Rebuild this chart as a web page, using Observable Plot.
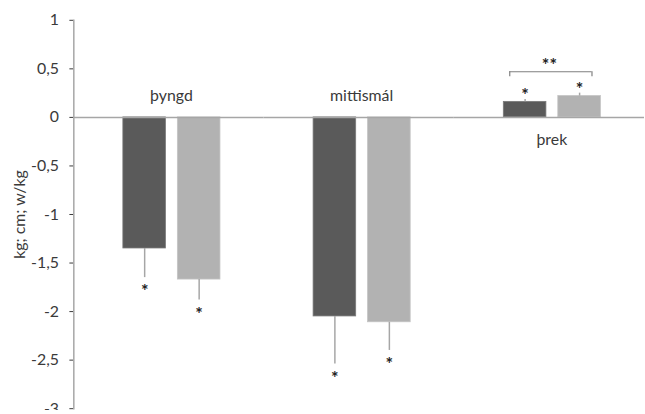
<!DOCTYPE html>
<html>
<head>
<meta charset="utf-8">
<script src="https://cdn.jsdelivr.net/npm/d3@7"></script>
<script src="https://cdn.jsdelivr.net/npm/@observablehq/plot@0.6"></script>
<style>
  html, body { margin: 0; padding: 0; background: #fff; overflow: hidden; }
  #chart { width: 645px; height: 414px; overflow: hidden; }
</style>
</head>
<body>
<div id="chart"></div>
<script>
// ---- data ----
const categories = ["þyngd", "mittismál", "þrek"];
const series = ["hópur 1", "hópur 2"];
const values1 = [-1.35, -2.05, 0.16];
const values2 = [-1.67, -2.11, 0.22];
const errors1 = [0.30, 0.49, 0.025];
const errors2 = [0.21, 0.29, 0.03];
const signif1 = ["*", "*", "*"];
const signif2 = ["*", "*", "*"];
const yTicks = [-3, -2.5, -2, -1.5, -1, -0.5, 0, 0.5, 1];
const yLabel = "kg; cm; w/kg";
// bracket comparing the two series in "þrek"
const bracketCategory = "þrek";
const bracketText = "**";
const bracketTop = 0.47;
const bracketFoot = 0.42;
const bracketTextY = 0.54;

// ---- build table ----
const rows = [];
categories.forEach((c, i) => {
  rows.push({cat: c, s: series[0], v: values1[i], e: errors1[i], sig: signif1[i]});
  rows.push({cat: c, s: series[1], v: values2[i], e: errors2[i], sig: signif2[i]});
});
rows.forEach(r => { r.end = r.v < 0 ? r.v - r.e : r.v + r.e; });
const catLabels = categories.map((c, i) => ({cat: c, neg: Math.min(values1[i], values2[i]) < 0}));

const colors = ["#5a5a5a", "#b2b2b2"];
const gray = "#a6a6a6";
const textColor = "#3a3a3a";
const font = "Lato, 'Open Sans', sans-serif";
const bracketColor = "#7f7f7f";

const chart = Plot.plot({
  width: 651,
  height: 414,
  marginLeft: 73,
  marginRight: 0,
  marginTop: 20,
  marginBottom: 2,
  style: {fontFamily: font, fontSize: "16px", color: textColor, background: "#fff"},
  fx: {domain: categories, axis: null, padding: 0},
  x: {domain: series, axis: null, paddingInner: 0.222, paddingOuter: 0.855, align: 0.53},
  y: {
    domain: [-3, 1],
    ticks: yTicks,
    tickFormat: d => String(d).replace(".", ","),
    tickSize: 4,
    tickPadding: 11,
    label: yLabel,
    labelAnchor: "center",
    labelArrow: "none",
    labelOffset: 61
  },
  color: {domain: series, range: colors},
  marks: [
    Plot.frame({anchor: "left", stroke: gray, strokeWidth: 1.5, facet: "super"}),
    Plot.barY(rows, {fx: "cat", x: "s", y: "v", fill: "s", stroke: d => d.s === series[0] ? "#7a7a7a" : "#c4c4c4", strokeWidth: 0.8}),
    Plot.ruleY([0], {stroke: gray, strokeWidth: 1.5}),
    Plot.ruleX(rows, {fx: "cat", x: "s", y1: "v", y2: "end", stroke: gray, strokeWidth: 1.5}),
    Plot.text(rows.filter(r => r.v < 0), {fx: "cat", x: "s", y: "end", text: "sig", dy: 14, fontSize: 18, fontWeight: "bold", fill: "#222"}),
    Plot.text(rows.filter(r => r.v >= 0), {fx: "cat", x: "s", y: "end", text: "sig", dy: -4, fontSize: 18, fontWeight: "bold", fill: "#222"}),
    Plot.text(catLabels, {fx: "cat", y: d => d.neg && d.cat !== "þrek" ? 0.22 : -0.23, text: "cat", dx: 2.5, fill: textColor, fontSize: 16}),
    // significance bracket
    Plot.ruleY([bracketTop], {fx: () => bracketCategory, x1: () => series[0], x2: () => series[1], insetLeft: 6, insetRight: 9, stroke: bracketColor, strokeWidth: 1.2}),
    Plot.ruleX([{s: series[0], c: bracketCategory}], {fx: "c", x: "s", y1: bracketFoot, y2: bracketTop, dx: -15.5, stroke: bracketColor, strokeWidth: 1.2}),
    Plot.ruleX([{s: series[1], c: bracketCategory}], {fx: "c", x: "s", y1: bracketFoot, y2: bracketTop, dx: 12.5, stroke: bracketColor, strokeWidth: 1.2}),
    Plot.text([bracketText], {fx: () => bracketCategory, y: bracketTextY, text: d => d, dx: 0, fontSize: 18, fontWeight: "bold", fill: "#222"})
  ]
});
document.getElementById("chart").append(chart);
</script>
</body>
</html>
